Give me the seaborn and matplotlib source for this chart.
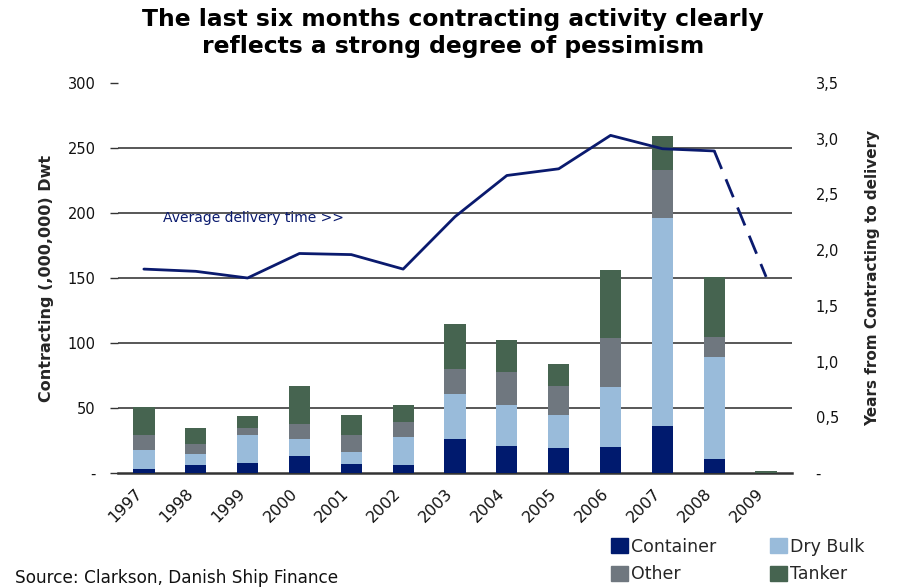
import numpy as np
import pandas as pd
import seaborn as sns
import matplotlib.pyplot as plt
from matplotlib.patches import Patch
from matplotlib.transforms import ScaledTranslation

# ---- data ----
years = ["1997", "1998", "1999", "2000", "2001", "2002", "2003",
         "2004", "2005", "2006", "2007", "2008", "2009"]
container = [3, 6, 7.5, 13, 7, 6, 26, 21, 19, 20, 36, 11, 0]
dry_bulk = [15, 8.5, 21.5, 13.5, 9, 22, 35, 31.5, 26, 46, 160, 78.5, 0]
other = [11.5, 7.5, 6, 11.5, 13, 11.5, 19, 25.5, 22, 37.5, 37, 15.5, 0]
tanker = [21.5, 13, 9, 29, 16, 12.5, 35, 24.5, 16.5, 53, 26.5, 45.5, 1.2]
delivery_years = [1.83, 1.81, 1.75, 1.97, 1.96, 1.83, 2.30, 2.67, 2.73, 3.03, 2.91, 2.89, 1.76]

col_container = "#001A6E"
col_dry = "#99BBDA"
col_other = "#6F777F"
col_tanker = "#466450"
col_line = "#0A1A6E"

sns.set_style("white")
plt.rcParams["font.family"] = ["DejaVu Sans"]

df = pd.DataFrame({"year": years, "Container": container, "Dry Bulk": dry_bulk,
                   "Other": other, "Tanker": tanker})
df["c1"] = df["Container"]
df["c2"] = df["c1"] + df["Dry Bulk"]
df["c3"] = df["c2"] + df["Other"]
df["c4"] = df["c3"] + df["Tanker"]

fig = plt.figure(figsize=(8.97, 5.87), dpi=100)
ax = fig.add_axes([0.1315, 0.1942, 0.7515, 0.6644])

# stacked bars: draw cumulative totals from top layer down
for col, colour in [("c4", col_tanker), ("c3", col_other), ("c2", col_dry), ("c1", col_container)]:
    sns.barplot(data=df, x="year", y=col, color=colour, width=0.41, saturation=1,
                order=years, ax=ax, zorder=3, linewidth=0, edgecolor="none")

ax.set_xlim(-0.5, 12.5)
ax.set_ylim(0, 300)
ax.set_yticks(range(0, 301, 50))
ax.set_yticklabels(["-"] + [str(v) for v in range(50, 301, 50)], fontsize=10.5, color="#111111")
ax.yaxis.grid(True, color="#2a2a2a", lw=1.1, zorder=1)
ax.get_ygridlines()[0].set_visible(False)
ax.get_ygridlines()[-1].set_visible(False)
ax.tick_params(axis="y", length=6, width=1, color="#333333", pad=10, left=True)
ax.tick_params(axis="x", length=0, pad=9)
ax.set_xticks(range(len(years)))
ax.set_xticklabels(years, rotation=45, ha="right", rotation_mode="anchor",
                   fontsize=11.5, color="#111111")
for lab in ax.get_xticklabels():
    lab.set_transform(lab.get_transform() + ScaledTranslation(-7 / 72, 0, fig.dpi_scale_trans))
for s in ["top", "right", "left"]:
    ax.spines[s].set_visible(False)
ax.spines["bottom"].set_color("#333333")
ax.spines["bottom"].set_linewidth(1.8)
ax.set_xlabel("")
ax.set_ylabel("Contracting (,000,000) Dwt", fontsize=11.5, fontweight="bold", labelpad=10)

# delivery time line on right axis
ax2 = ax.twinx()
xs = np.arange(len(years))
sns.lineplot(x=xs[:12], y=delivery_years[:12], color=col_line, lw=2, ax=ax2)
sns.lineplot(x=xs[11:], y=delivery_years[11:], color=col_line, lw=2, ax=ax2,
             dashes=False, linestyle=(0, (7, 4)))
ax2.set_ylim(0, 3.5)
ax2.set_yticks(np.arange(0, 3.51, 0.5))
ax2.set_yticklabels(["-"] + [f"{v:.1f}".replace(".", ",") for v in np.arange(0.5, 3.51, 0.5)],
                    fontsize=10.5, color="#111111")
ax2.tick_params(axis="y", length=0, pad=17)
for s in ["top", "right", "left", "bottom"]:
    ax2.spines[s].set_visible(False)
ax2.set_ylabel("Years from Contracting to delivery", fontsize=11, fontweight="bold", labelpad=19)
ax2.text(0.36, 2.29, "Average delivery time >>", color=col_line, fontsize=10, va="center")

fig.suptitle("The last six months contracting activity clearly\nreflects a strong degree of pessimism",
             fontsize=16.8, fontweight="bold", y=0.987, x=0.505, linespacing=1.22, color="#000000")

handles = [Patch(color=col_container, label="Container"), Patch(color=col_other, label="Other"),
           Patch(color=col_dry, label="Dry Bulk"), Patch(color=col_tanker, label="Tanker")]
fig.legend(handles=handles, ncol=2, loc="lower left", bbox_to_anchor=(0.664, -0.020),
           frameon=False, fontsize=12.5, handlelength=0.95, handleheight=0.95,
           handletextpad=0.2, columnspacing=3.1, labelspacing=0.55)

fig.text(0.017, 0.007, "Source: Clarkson, Danish Ship Finance", fontsize=12.2, color="#111111")

fig.savefig("out.png", dpi=100)
